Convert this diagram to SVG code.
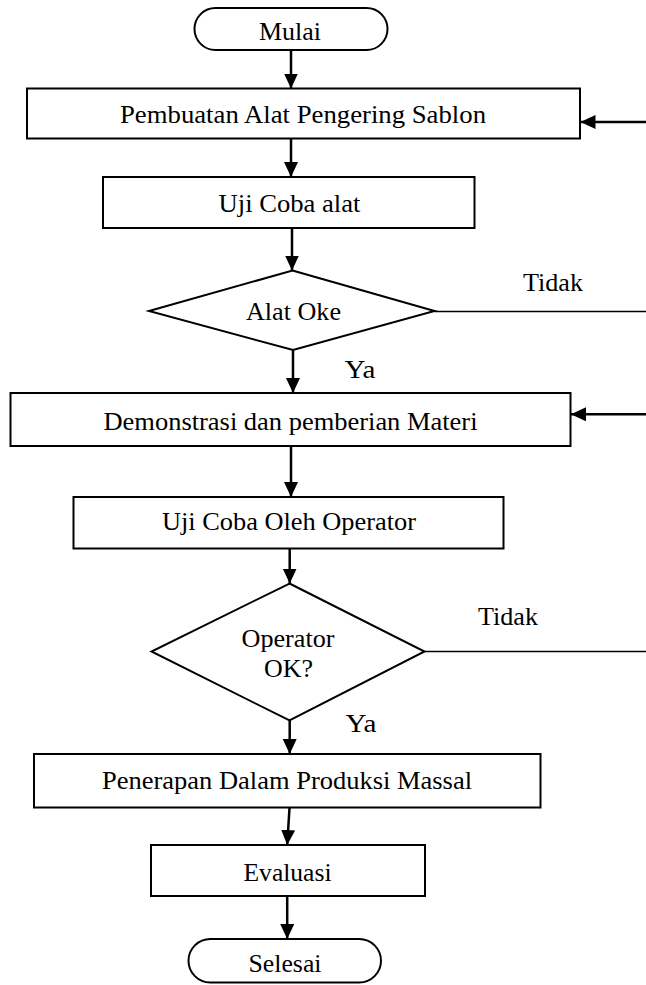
<svg xmlns="http://www.w3.org/2000/svg" width="646" height="985" viewBox="0 0 646 985">
<style>
.box{fill:#fff;stroke:#000;stroke-width:2}
.t{font-family:"Liberation Serif","Times New Roman",serif;font-size:25px;fill:#000;text-anchor:middle}
.c{fill:none;stroke:#000;stroke-width:2.5}
.c2{fill:none;stroke:#000;stroke-width:1.6}
</style>
<defs>
<marker id="ah" markerUnits="userSpaceOnUse" markerWidth="16" markerHeight="15" refX="15" refY="7" orient="auto">
<path d="M0,0 L15,7 L0,14 z" fill="#000"/>
</marker>
</defs>
<rect width="646" height="985" fill="#fff"/>
<g id="connectors">
<line class="c" x1="291" y1="50" x2="291" y2="88.5" marker-end="url(#ah)"/>
<line class="c" x1="291" y1="138.5" x2="291" y2="177" marker-end="url(#ah)"/>
<line class="c" x1="292" y1="228" x2="292" y2="270.5" marker-end="url(#ah)"/>
<line class="c" x1="293" y1="350" x2="293" y2="393" marker-end="url(#ah)"/>
<line class="c" x1="291" y1="446" x2="291" y2="497" marker-end="url(#ah)"/>
<line class="c" x1="289.7" y1="548.5" x2="289.7" y2="583.5" marker-end="url(#ah)"/>
<line class="c" x1="289.7" y1="720.5" x2="289.7" y2="754" marker-end="url(#ah)"/>
<line class="c" x1="289.7" y1="805" x2="287.2" y2="845" marker-end="url(#ah)"/>
<line class="c" x1="287.2" y1="896" x2="287.2" y2="939" marker-end="url(#ah)"/>
<line class="c2" x1="434.5" y1="311.5" x2="646" y2="311.5"/>
<line class="c" x1="646" y1="122" x2="580.5" y2="122" marker-end="url(#ah)"/>
<line class="c2" x1="424.5" y1="651.5" x2="646" y2="651.5"/>
<line class="c" x1="646" y1="414.3" x2="571" y2="414.3" marker-end="url(#ah)"/>
<text class="t" x="553" y="290.5" textLength="60" lengthAdjust="spacingAndGlyphs">Tidak</text>
<text class="t" x="360" y="377.5" textLength="31" lengthAdjust="spacingAndGlyphs">Ya</text>
<text class="t" x="508" y="625" textLength="60" lengthAdjust="spacingAndGlyphs">Tidak</text>
<text class="t" x="361" y="732" textLength="31" lengthAdjust="spacingAndGlyphs">Ya</text>
</g>
<g id="mulai">
<rect class="box" x="194.5" y="8" width="193" height="42" rx="21"/>
<text class="t" x="290" y="39.5" textLength="62" lengthAdjust="spacingAndGlyphs">Mulai</text>
</g>
<g id="pembuatan">
<rect class="box" x="27" y="88.5" width="553" height="50"/>
<text class="t" x="303" y="123" textLength="366" lengthAdjust="spacingAndGlyphs">Pembuatan Alat Pengering Sablon</text>
</g>
<g id="ujicoba-alat">
<rect class="box" x="103" y="177" width="371.5" height="51"/>
<text class="t" x="289.5" y="212" textLength="142" lengthAdjust="spacingAndGlyphs">Uji Coba alat</text>
</g>
<g id="alat-oke">
<polygon class="box" points="292.5,270.5 434.5,311 293,350 149,311"/>
<text class="t" x="293.5" y="320" textLength="95" lengthAdjust="spacingAndGlyphs">Alat Oke</text>
</g>
<g id="demonstrasi">
<rect class="box" x="10.5" y="393" width="560" height="53"/>
<text class="t" x="290.5" y="430" textLength="374" lengthAdjust="spacingAndGlyphs">Demonstrasi dan pemberian Materi</text>
</g>
<g id="ujicoba-operator">
<rect class="box" x="73.5" y="497" width="430" height="51.5"/>
<text class="t" x="289" y="530" textLength="254" lengthAdjust="spacingAndGlyphs">Uji Coba Oleh Operator</text>
</g>
<g id="operator-ok">
<polygon class="box" points="289.5,583.5 424.5,651.5 289.5,720.5 151.5,651.5"/>
<text class="t" x="288" y="646.5" textLength="93" lengthAdjust="spacingAndGlyphs">Operator</text>
<text class="t" x="288.5" y="676.5" textLength="49" lengthAdjust="spacingAndGlyphs">OK?</text>
</g>
<g id="penerapan">
<rect class="box" x="34" y="754" width="506.5" height="53.5"/>
<text class="t" x="287" y="789" textLength="370" lengthAdjust="spacingAndGlyphs">Penerapan Dalam Produksi Massal</text>
</g>
<g id="evaluasi">
<rect class="box" x="151" y="845" width="274" height="51"/>
<text class="t" x="287.5" y="880.5" textLength="88" lengthAdjust="spacingAndGlyphs">Evaluasi</text>
</g>
<g id="selesai">
<rect class="box" x="188.5" y="939" width="192.5" height="43.5" rx="21.75"/>
<text class="t" x="285" y="971.5" textLength="73" lengthAdjust="spacingAndGlyphs">Selesai</text>
</g>
</svg>
